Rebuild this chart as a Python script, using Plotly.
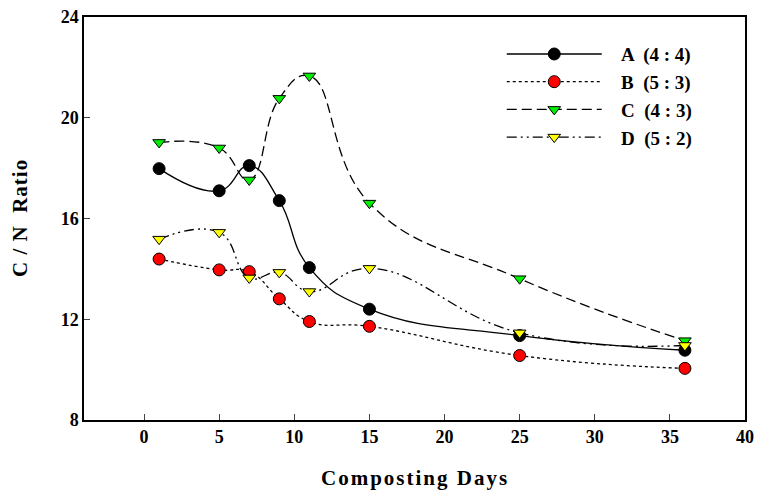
import plotly.graph_objects as go

days = [1, 5, 7, 9, 11, 15, 25, 36]
series_names = ["A  (4 : 4)", "B  (5 : 3)", "C  (4 : 3)", "D  (5 : 2)"]
a_vals = [17.98, 17.1, 18.1, 16.71, 14.05, 12.4, 11.35, 10.77]
b_vals = [14.39, 13.96, 13.89, 12.81, 11.91, 11.72, 10.56, 10.05]
c_vals = [19.02, 18.8, 17.53, 20.77, 21.66, 16.61, 13.61, 11.15]
d_vals = [15.18, 15.45, 13.64, 13.86, 13.1, 14.02, 11.46, 10.96]
x_ticks = [0, 5, 10, 15, 20, 25, 30, 35, 40]
y_ticks = [8, 12, 16, 20, 24]
x_title = "Composting Days"
y_title = "C / N  Ratio"

styles = [
    dict(dash="solid", color="black", symbol="circle"),
    dict(dash="dot", color="red", symbol="circle"),
    dict(dash="10px,5px", color="#00ee00", symbol="triangle-down"),
    dict(dash="10px,4px,2px,4px,2px,4px", color="#ffff00", symbol="triangle-down"),
]

fig = go.Figure()
for name, vals, st in zip(series_names, [a_vals, b_vals, c_vals, d_vals], styles):
    fig.add_trace(go.Scatter(
        x=days, y=vals, name="\u00a0\u00a0\u00a0" + name, mode="lines+markers",
        line=dict(color="black", width=1.3, dash=st["dash"], shape="spline", smoothing=1.3),
        marker=dict(symbol=st["symbol"], size=12 if st["symbol"] == "circle" else 11,
                    color=st["color"], line=dict(color="black", width=1)),
    ))

font_family = "Liberation Serif"
title_font = dict(family=font_family, size=21, weight="bold", color="black")
fig.update_layout(
    width=757, height=493,
    margin=dict(l=84, r=12, t=17, b=73),
    paper_bgcolor="white", plot_bgcolor="white",
    font=dict(family=font_family, color="black", size=16),
    showlegend=True,
    legend=dict(x=0.632, y=0.955, xanchor="left", yanchor="top",
                font=dict(family=font_family, size=19, weight="bold"),
                itemwidth=95, tracegroupgap=0, bgcolor="rgba(0,0,0,0)"),
    xaxis=dict(range=[-4, 40], tickvals=x_ticks, ticks="inside", ticklen=6,
               tickwidth=1.3, showgrid=False, zeroline=False, showline=True,
               linecolor="black", linewidth=1.5, mirror=True, automargin=False,
               tickfont=dict(family=font_family, size=18, weight="bold")),
    yaxis=dict(range=[8, 24], tickvals=y_ticks, ticks="inside", ticklen=6,
               tickwidth=1.3, showgrid=False, zeroline=False, showline=True,
               linecolor="black", linewidth=1.5, mirror=True, automargin=False,
               tickfont=dict(family=font_family, size=18, weight="bold")),
    annotations=[
        dict(text="<span style='letter-spacing:2px'>" + x_title + "</span>",
             xref="paper", yref="paper", x=0.5, y=-0.144, xanchor="center",
             yanchor="middle", showarrow=False, font=title_font),
        dict(text="<span style='letter-spacing:1px'>" + y_title + "</span>",
             xref="paper", yref="paper", x=-0.097, y=0.501, xanchor="center",
             yanchor="middle", showarrow=False, textangle=-90, font=title_font),
    ],
)
fig.write_html("out.html", config={"displayModeBar": False},
               post_script="document.body.style.margin='0px';")
